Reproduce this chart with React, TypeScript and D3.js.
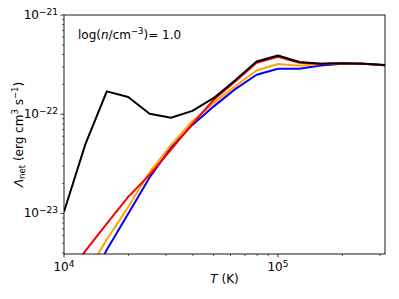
import React from 'react';
import * as d3 from 'd3';

// log10(T) grid of the tabulated cooling rates
const logT = [4.0, 4.1, 4.2, 4.3, 4.4, 4.5, 4.6, 4.7, 4.8, 4.9, 5.0, 5.1, 5.2, 5.3, 5.4, 5.5];

// net cooling rate, erg cm^3 s^-1
const lamBlack = [1.04e-23, 5.0e-23, 1.70e-22, 1.49e-22, 1.01e-22, 0.92e-22, 1.08e-22, 1.46e-22, 2.2e-22, 3.4e-22, 3.91e-22, 3.36e-22, 3.23e-22, 3.27e-22, 3.23e-22, 3.13e-22];
const lamRed = [2.1e-24, 4.2e-24, 7.9e-24, 1.47e-23, 2.45e-23, 4.4e-23, 8.0e-23, 1.40e-22, 2.14e-22, 3.3e-22, 3.8e-22, 3.3e-22, 3.22e-22, 3.26e-22, 3.22e-22, 3.12e-22];
const lamOrange = [1.3e-24, 2.4e-24, 5.45e-24, 1.16e-23, 2.6e-23, 4.9e-23, 8.5e-23, 1.30e-22, 1.91e-22, 2.76e-22, 3.21e-22, 3.08e-22, 3.2e-22, 3.25e-22, 3.22e-22, 3.12e-22];
const lamBlue = [0.8e-24, 1.6e-24, 4.3e-24, 9.9e-24, 2.3e-23, 4.6e-23, 7.8e-23, 1.20e-22, 1.79e-22, 2.50e-22, 2.87e-22, 2.87e-22, 3.1e-22, 3.23e-22, 3.22e-22, 3.12e-22];

const xMajor = [1e4, 1e5];
const yMajor = [1e-23, 1e-22, 1e-21];

const W = 399, H = 299;
const L = 64, R = 385, T = 15, B = 254;

const x = d3.scaleLog().domain([1e4, Math.pow(10, 5.5)]).range([L, R]);
const y = d3.scaleLog().domain([3.9e-24, 1e-21]).range([B, T]);

const minorTicks = (lo: number, hi: number) => {
  const out: number[] = [];
  for (let e = Math.floor(Math.log10(lo)); e <= Math.ceil(Math.log10(hi)); e++) {
    for (let m = 2; m <= 9; m++) {
      const v = m * Math.pow(10, e);
      if (v >= lo && v <= hi) out.push(v);
    }
  }
  return out;
};

const series = [
  { vals: lamBlue, color: '#0000ff' },
  { vals: lamOrange, color: '#ffa500' },
  { vals: lamRed, color: '#ff0000' },
  { vals: lamBlack, color: '#000000' },
];

const line = d3.line<number>()
  .x((_, i) => x(Math.pow(10, logT[i])))
  .y(d => y(d));

const Pow = ({ exp }: { exp: string }) => (
  <>
    10<tspan dy="-0.5em" fontSize="9">{exp}</tspan>
  </>
);

export default function App() {
  const xd = x.domain(), yd = y.domain();
  return (
    <svg width={W} height={H} style={{ position: 'absolute', left: 0, top: 0, background: '#fff' }}
      fontFamily="DejaVu Sans, sans-serif" fontSize="12">
      <defs>
        <clipPath id="plot">
          <rect x={L} y={T} width={R - L} height={B - T} />
        </clipPath>
      </defs>
      <g clipPath="url(#plot)">
        {series.map((s, k) => (
          <path key={k} d={line(s.vals) || ''} fill="none" stroke={s.color} strokeWidth={2} strokeLinejoin="round" />
        ))}
      </g>
      <rect x={L} y={T} width={R - L} height={B - T} fill="none" stroke="#000" strokeWidth={0.9} />

      {/* x ticks */}
      {minorTicks(xd[0], xd[1]).map(v => (
        <line key={'xm' + v} x1={x(v)} x2={x(v)} y1={B} y2={B + 2} stroke="#000" strokeWidth={0.6} />
      ))}
      {xMajor.map((v, i) => (
        <g key={'xM' + v}>
          <line x1={x(v)} x2={x(v)} y1={B} y2={B + 3.5} stroke="#000" strokeWidth={0.8} />
          <text x={x(v)} y={B + 17} textAnchor="middle"><Pow exp={String(4 + i)} /></text>
        </g>
      ))}

      {/* y ticks */}
      {minorTicks(yd[0], yd[1]).map(v => (
        <line key={'ym' + v} x1={L - 2} x2={L} y1={y(v)} y2={y(v)} stroke="#000" strokeWidth={0.6} />
      ))}
      {yMajor.map((v, i) => (
        <g key={'yM' + v}>
          <line x1={L - 3.5} x2={L} y1={y(v)} y2={y(v)} stroke="#000" strokeWidth={0.8} />
          <text x={L - 6} y={y(v) + 4} textAnchor="end"><Pow exp={'\u2212' + (23 - i)} /></text>
        </g>
      ))}

      <text x={(L + R) / 2} y={283} textAnchor="middle">
        <tspan fontStyle="italic">T</tspan> (K)
      </text>
      <text transform={`translate(23,${(T + B) / 2}) rotate(-90)`} textAnchor="middle">
        <tspan fontStyle="italic">Λ</tspan><tspan fontSize="8.5" dy="2">net</tspan>
        <tspan dy="-2"> (erg cm</tspan><tspan fontSize="8.5" dy="-5">3</tspan>
        <tspan dy="5"> s</tspan><tspan fontSize="8.5" dy="-5">−1</tspan><tspan dy="5">)</tspan>
      </text>

      <text x={78} y={39}>
        log(<tspan fontStyle="italic">n</tspan>/cm<tspan fontSize="8.5" dy="-5">−3</tspan><tspan dy="5">)= 1.0</tspan>
      </text>
    </svg>
  );
}
